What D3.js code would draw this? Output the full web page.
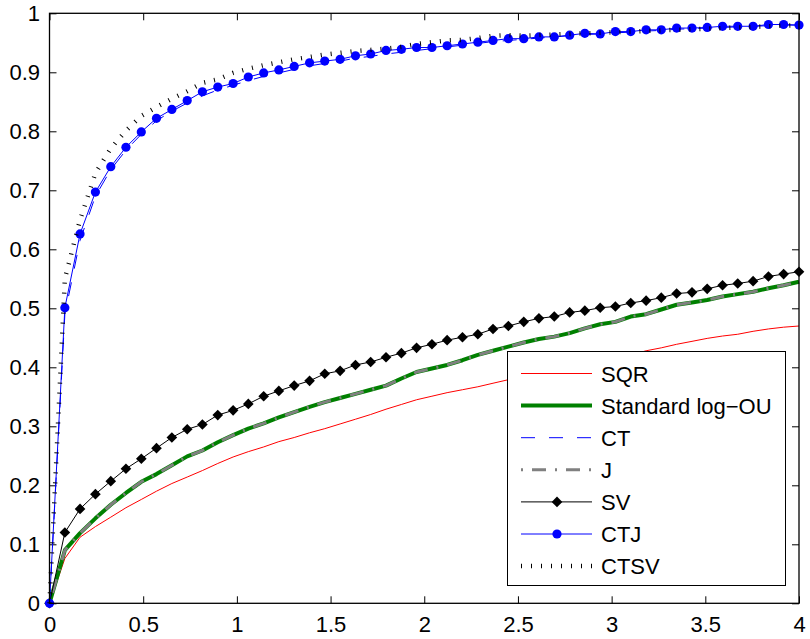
<!DOCTYPE html>
<html>
<head>
<meta charset="utf-8">
<script src="https://cdn.jsdelivr.net/npm/d3@7"></script>
<style>
  body { margin: 0; background: #fff; }
  svg text { font-family: "Liberation Sans", Arial, Helvetica, sans-serif; font-size: 22px; fill: #000; }
</style>
</head>
<body>
<svg id="chart" width="810" height="639"></svg>
<script>
// sampling grid on the horizontal axis
let xGrid = [0, 0.082, 0.163, 0.245, 0.327, 0.408, 0.49, 0.571, 0.653, 0.735,
  0.816, 0.898, 0.98, 1.061, 1.143, 1.224, 1.306, 1.388, 1.469, 1.551,
  1.633, 1.714, 1.796, 1.878, 1.959, 2.041, 2.122, 2.204, 2.286, 2.367,
  2.449, 2.531, 2.612, 2.694, 2.776, 2.857, 2.939, 3.02, 3.102, 3.184,
  3.265, 3.347, 3.429, 3.51, 3.592, 3.673, 3.755, 3.837, 3.918, 4]

let sqr = [0, 0.076, 0.112, 0.130, 0.146, 0.162, 0.176, 0.190, 0.203, 0.214,
  0.225, 0.237, 0.248, 0.257, 0.265, 0.274, 0.281, 0.289, 0.296, 0.304,
  0.312, 0.320, 0.329, 0.337, 0.345, 0.351, 0.357, 0.362, 0.367, 0.373,
  0.379, 0.385, 0.391, 0.396, 0.401, 0.406, 0.411, 0.416, 0.421, 0.428,
  0.433, 0.439, 0.444, 0.449, 0.453, 0.456, 0.461, 0.465, 0.468, 0.470]

let logOU = [0, 0.090, 0.119, 0.144, 0.167, 0.187, 0.206, 0.219, 0.234, 0.249,
  0.259, 0.273, 0.285, 0.296, 0.305, 0.315, 0.324, 0.333, 0.341, 0.348,
  0.355, 0.362, 0.369, 0.381, 0.392, 0.398, 0.404, 0.412, 0.421, 0.428,
  0.435, 0.442, 0.448, 0.452, 0.458, 0.466, 0.473, 0.477, 0.486, 0.490,
  0.498, 0.506, 0.510, 0.514, 0.520, 0.524, 0.528, 0.534, 0.539, 0.545]

let ct = [0, 0.490, 0.615, 0.690, 0.735, 0.768, 0.795, 0.818, 0.834, 0.848,
  0.860, 0.870, 0.878, 0.886, 0.893, 0.899, 0.905, 0.911, 0.915, 0.919,
  0.924, 0.927, 0.931, 0.934, 0.937, 0.940, 0.943, 0.946, 0.949, 0.952,
  0.954, 0.956, 0.958, 0.960, 0.962, 0.964, 0.965, 0.967, 0.968, 0.970,
  0.971, 0.973, 0.974, 0.975, 0.976, 0.977, 0.978, 0.979, 0.980, 0.980]

let jmp = [0, 0.090, 0.119, 0.144, 0.167, 0.187, 0.206, 0.219, 0.234, 0.249,
  0.259, 0.273, 0.285, 0.296, 0.305, 0.315, 0.324, 0.333, 0.341, 0.348,
  0.355, 0.362, 0.369, 0.381, 0.392, 0.398, 0.404, 0.412, 0.421, 0.428,
  0.435, 0.442, 0.448, 0.452, 0.458, 0.466, 0.473, 0.477, 0.486, 0.490,
  0.498, 0.506, 0.510, 0.514, 0.520, 0.524, 0.528, 0.534, 0.539, 0.545]

let sv = [0, 0.120, 0.160, 0.185, 0.207, 0.228, 0.245, 0.263, 0.281, 0.295,
  0.303, 0.319, 0.327, 0.338, 0.351, 0.360, 0.369, 0.377, 0.389, 0.394,
  0.404, 0.409, 0.417, 0.424, 0.433, 0.439, 0.446, 0.451, 0.456, 0.465,
  0.470, 0.477, 0.483, 0.486, 0.493, 0.496, 0.501, 0.503, 0.509, 0.513,
  0.518, 0.525, 0.527, 0.533, 0.539, 0.542, 0.546, 0.554, 0.558, 0.562]

let ctj = [0, 0.501, 0.626, 0.697, 0.740, 0.773, 0.799, 0.822, 0.837, 0.852,
  0.867, 0.875, 0.881, 0.892, 0.899, 0.904, 0.910, 0.916, 0.919, 0.922,
  0.928, 0.931, 0.937, 0.939, 0.942, 0.942, 0.945, 0.948, 0.951, 0.954,
  0.957, 0.957, 0.960, 0.960, 0.963, 0.966, 0.965, 0.969, 0.969, 0.972,
  0.972, 0.975, 0.975, 0.976, 0.978, 0.978, 0.978, 0.981, 0.981, 0.980]

let ctsv = [0, 0.550, 0.650, 0.729, 0.771, 0.801, 0.826, 0.841, 0.855, 0.868,
  0.882, 0.888, 0.899, 0.906, 0.912, 0.917, 0.922, 0.926, 0.930, 0.933,
  0.936, 0.938, 0.940, 0.943, 0.948, 0.951, 0.954, 0.955, 0.958, 0.962,
  0.963, 0.962, 0.963, 0.964, 0.965, 0.966, 0.967, 0.968, 0.969, 0.970,
  0.971, 0.972, 0.973, 0.974, 0.975, 0.976, 0.977, 0.978, 0.979, 0.980]

let xTicks = [0, 0.5, 1, 1.5, 2, 2.5, 3, 3.5, 4]
let yTicks = [0, 0.1, 0.2, 0.3, 0.4, 0.5, 0.6, 0.7, 0.8, 0.9, 1]

let seriesNames = ['SQR', 'Standard log\u2212OU', 'CT', 'J', 'SV', 'CTJ', 'CTSV']
let seriesValues = [sqr, logOU, ct, jmp, sv, ctj, ctsv]

// line styles, in plotting order
let styles = [
  { color: '#ff0000', width: 1, dash: null, marker: null },
  { color: '#008000', width: 4, dash: null, marker: null },
  { color: '#0000ff', width: 1, dash: '14,14', marker: null },
  { color: '#808080', width: 3, dash: '2,9,14,9', marker: null },
  { color: '#000000', width: 1, dash: null, marker: 'diamond' },
  { color: '#0000ff', width: 1, dash: null, marker: 'circle' },
  { color: '#000000', width: 4.5, dash: '1,9', marker: null }
]

let plotLeft = 49.5, plotRight = 799, plotTop = 13.3, plotBottom = 603.3
let svg = d3.select('#chart')

let x = d3.scaleLinear().domain([0, 4]).range([plotLeft, plotRight])
let y = d3.scaleLinear().domain([0, 1]).range([plotBottom, plotTop])

svg.append('rect')
  .attr('x', 0).attr('y', 0).attr('width', 810).attr('height', 639)
  .attr('fill', '#fff')

/*** axes ***/
let fmt = d => String(d)

svg.append('g')
  .attr('transform', `translate(0,${plotBottom})`)
  .call(d3.axisBottom(x).tickValues(xTicks).tickFormat(fmt).tickSizeInner(-7).tickSizeOuter(0).tickPadding(13))
svg.append('g')
  .attr('transform', `translate(0,${plotTop})`)
  .call(d3.axisTop(x).tickValues(xTicks).tickFormat('').tickSizeInner(-7).tickSizeOuter(0))
svg.append('g')
  .attr('transform', `translate(${plotLeft},0)`)
  .call(d3.axisLeft(y).tickValues(yTicks).tickFormat(fmt).tickSizeInner(-7).tickSizeOuter(0).tickPadding(9.5))
svg.append('g')
  .attr('transform', `translate(${plotRight},0)`)
  .call(d3.axisRight(y).tickValues(yTicks).tickFormat('').tickSizeInner(-7).tickSizeOuter(0))

svg.selectAll('.domain').remove()
svg.selectAll('.tick line').attr('stroke', '#000').attr('stroke-width', 1)
svg.selectAll('.tick text')
  .attr('fill', '#000')
  .style('font-size', '22px')
  .style('font-family', '"Liberation Sans", Arial, Helvetica, sans-serif')

/*** series ***/
let line = d3.line().x((d, i) => x(xGrid[i])).y(d => y(d))
let plot = svg.append('g').attr('id', 'series')
let diamond = d3.symbol().type(d3.symbolDiamond2).size(72)

seriesValues.forEach((vals, s) => {
  let st = styles[s]
  plot.append('path')
    .attr('d', line(vals))
    .attr('fill', 'none')
    .attr('stroke', st.color)
    .attr('stroke-width', st.width)
    .attr('stroke-dasharray', st.dash)
    .attr('stroke-linejoin', 'round')

  if (st.marker === 'diamond') {
    plot.selectAll('.m' + s).data(vals).enter()
      .append('path')
      .attr('class', 'm' + s)
      .attr('transform', (d, i) => `translate(${x(xGrid[i])},${y(d)})`)
      .attr('d', diamond)
      .attr('fill', st.color)
  } else if (st.marker === 'circle') {
    plot.selectAll('.m' + s).data(vals).enter()
      .append('circle')
      .attr('class', 'm' + s)
      .attr('cx', (d, i) => x(xGrid[i]))
      .attr('cy', d => y(d))
      .attr('r', 4.6)
      .attr('fill', st.color)
  }
})

// frame
svg.append('rect')
  .attr('x', plotLeft).attr('y', plotTop)
  .attr('width', plotRight - plotLeft).attr('height', plotBottom - plotTop)
  .attr('fill', 'none')
  .attr('stroke', '#000')
  .attr('stroke-width', 1.3)

/*** legend ***/
let legend = svg.append('g').attr('id', 'legend')
legend.append('rect')
  .attr('x', 507.5).attr('y', 351.5)
  .attr('width', 278).attr('height', 234)
  .attr('fill', '#fff')
  .attr('stroke', '#000')
  .attr('stroke-width', 1)

seriesNames.forEach((name, i) => {
  let st = styles[i]
  let ry = 373.5 + i * 32.1
  legend.append('line')
    .attr('x1', 521).attr('x2', 592)
    .attr('y1', ry).attr('y2', ry)
    .attr('stroke', st.color)
    .attr('stroke-width', st.width)
    .attr('stroke-dasharray', st.dash)
  if (st.marker === 'diamond') {
    legend.append('path')
      .attr('transform', `translate(557,${ry})`)
      .attr('d', diamond)
      .attr('fill', st.color)
  } else if (st.marker === 'circle') {
    legend.append('circle')
      .attr('cx', 557).attr('cy', ry).attr('r', 4.6)
      .attr('fill', st.color)
  }
  legend.append('text')
    .attr('x', 601)
    .attr('y', ry + 8)
    .text(name)
})
</script>
</body>
</html>
